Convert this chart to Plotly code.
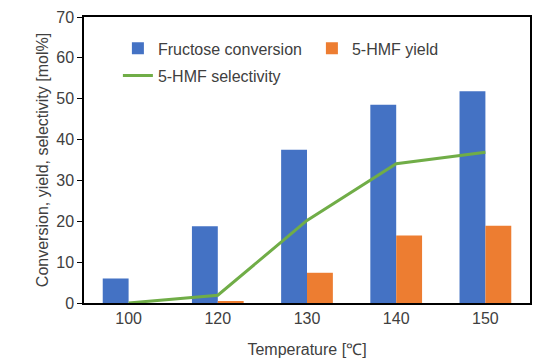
import plotly.graph_objects as go

temps = ["100", "120", "130", "140", "150"]
conversion = [6.0, 18.8, 37.5, 48.5, 51.8]
hmf_yield = [0.0, 0.3, 7.4, 16.5, 18.9]
selectivity = [0.0, 1.9, 20.2, 34.1, 36.9]

font = "Liberation Sans, Arial, sans-serif"
txt = "#404040"
fs = 16

fig = go.Figure()
fig.add_trace(go.Bar(x=temps, y=conversion, name="Fructose conversion",
                     marker=dict(color="#4472C4", line=dict(width=0)), legend="legend"))
fig.add_trace(go.Bar(x=temps, y=hmf_yield, name="5-HMF yield",
                     marker=dict(color="#ED7D31", line=dict(width=0)), legend="legend2"))
fig.add_trace(go.Scatter(x=temps, y=selectivity, name="5-HMF selectivity", mode="lines",
                         line=dict(color="#70AD47", width=3), legend="legend3"))

leg = dict(orientation="h", xanchor="left", yanchor="middle",
           bgcolor="rgba(0,0,0,0)", borderwidth=0, font=dict(size=fs, color=txt))

fig.update_layout(
    width=550, height=364,
    showlegend=True,
    margin=dict(l=84, r=20, t=17, b=61),
    paper_bgcolor="white", plot_bgcolor="white",
    font=dict(family=font, size=fs, color=txt),
    barmode="group", bargap=0.42, bargroupgap=0,
    legend=dict(leg, x=0.076, y=0.89),
    legend2=dict(leg, x=0.511, y=0.89),
    legend3=dict(leg, x=0.076, y=0.795),
    xaxis=dict(title=dict(text="Temperature [℃]", font=dict(size=fs, color=txt), standoff=18),
               showline=True, linecolor="black", linewidth=1.5, mirror=True, automargin=False,
               ticks="", tickfont=dict(size=fs, color=txt), showgrid=False),
    yaxis=dict(title=dict(text="Conversion, yield, selectivity [mol%]", font=dict(size=fs, color=txt), standoff=4),
               range=[0, 70], dtick=10, showline=True, linecolor="black", linewidth=1.5, mirror=True,
               automargin=False,
               ticks="outside", ticklen=5, tickcolor="black", tickfont=dict(size=fs, color=txt),
               showgrid=False, zeroline=False),
)

fig.write_html("out.html", config={"displayModeBar": False},
               post_script="document.body.style.margin='0';")
